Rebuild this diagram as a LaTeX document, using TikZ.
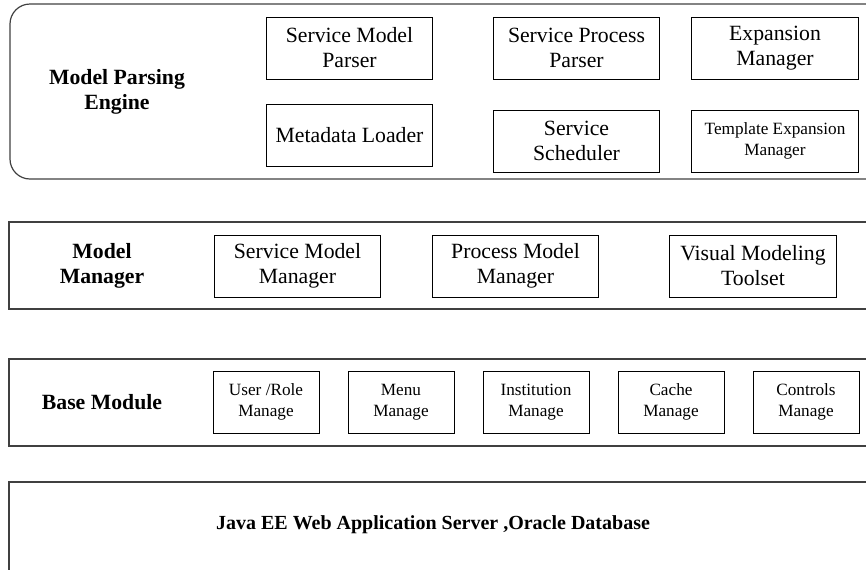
\documentclass[tikz,border=0pt]{standalone}
\usepackage{fontspec}
\setmainfont{Liberation Serif}
\usetikzlibrary{positioning}
\begin{document}
\begin{tikzpicture}[x=0.75pt, y=-0.75pt,
    panel/.style = {draw=black!75, line width=0.9pt},
    box/.style = {draw, line width=0.7pt, align=center, minimum width=125pt, minimum height=46.5pt, inner sep=1pt, font=\fontsize{16.3}{18.8}\selectfont},
    basebox/.style = {box, minimum width=79.5pt, font=\fontsize{12.9}{15.5}\selectfont},
    headtext/.style = {align=center, font=\fontsize{16.3}{18.8}\selectfont\bfseries}]
    \useasboundingbox (0,0) rectangle (866,569);
    \clip (0,0) rectangle (866,569);

    % layers
    \draw[panel, rounded corners=15pt] (10,4) rectangle (885,179);
    \draw[panel] (9,222) rectangle (885,309);
    \draw[panel] (9,359) rectangle (885,446);
    \draw[panel] (9,482) rectangle (885,620);

    % model parsing engine
    \node[headtext] (engine) at (117,92) {Model Parsing\\Engine};
    \node[box] (smp) at (349.5,48) {Service Model\\Parser};
    \node[box] (ml) at (349.5,135) {Metadata Loader};
    \node[box] (spp) at (576.5,48) {Service Process\\Parser};
    \node[box] (ss) at (576.5,141) {Service\\Scheduler};
    \node[box] (em) at (775,48) {Expansion\\Manager};
    \node[box, font=\fontsize{12.9}{15.5}\selectfont] (tem) at (775,141) {Template Expansion\\Manager};

    % model manager
    \node[headtext] (mm) at (102,266) {Model\\Manager};
    \node[box] (smm) at (297.5,266) {Service Model\\Manager};
    \node[box] (pmm) at (515.5,266) {Process Model\\Manager};
    \node[box] (vmt) at (753,266) {Visual Modeling\\Toolset};

    % base module
    \node[headtext] (base) at (102,402) {Base Module};
    \begin{scope}[node distance=101.25pt]
        \node[basebox] (user) at (266,402) {User /Role\\Manage};
        \node[basebox] (menu) [right of=user] {Menu\\Manage};
        \node[basebox] (inst) [right of=menu] {Institution\\Manage};
        \node[basebox] (cache) [right of=inst] {Cache\\Manage};
        \node[basebox] (ctrl) [right of=cache] {Controls\\Manage};
    \end{scope}

    % server
    \node[headtext, font=\fontsize{15}{18}\selectfont\bfseries] (server) at (433,525) {Java EE Web Application Server ,Oracle Database};
\end{tikzpicture}
\end{document}
